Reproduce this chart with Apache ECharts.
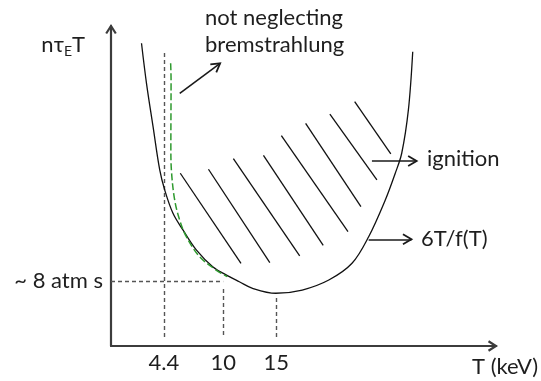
<!DOCTYPE html>
<html><head><meta charset="utf-8">
<script src="https://cdn.jsdelivr.net/npm/echarts@6/dist/echarts.min.js"></script>
<style>html,body{margin:0;padding:0;background:#fff}#c{width:541px;height:381px}</style>
</head><body><div id="c"></div>
<script>
// T (keV) tick labels and y reference value (atm s)
const xTicks = [4.4, 10, 15];
const yTicks = [8];
// 6T/f(T) ignition curve (schematic)
const curveT = [2.29, 2.76, 3.38, 4.01, 4.48, 5.26, 6.20, 7.46, 9.01, 10.58, 11.52, 12.77, 14.97, 17.46, 19.97, 22.16, 23.73, 25.30, 26.24, 26.85, 27.48, 27.89];
const curveV = [37.26, 32.33, 26.99, 21.66, 19.20, 16.33, 14.28, 11.82, 9.76, 8.53, 7.91, 7.10, 6.49, 6.89, 8.12, 10.18, 13.45, 17.97, 21.26, 23.72, 29.05, 36.22];
// curve with bremsstrahlung (green dashed)
const bremT = [5.04, 5.08, 5.06, 5.11, 5.42, 5.89, 6.52, 7.77, 9.33, 10.39];
const bremV = [34.79, 32.74, 24.53, 21.66, 17.97, 15.51, 13.45, 11.00, 9.35, 8.53];
// hatching of the ignition region: start T, start v, end T, end v
const hatchT1 = [5.95, 8.61, 10.96, 13.80, 15.49, 17.78, 20.07, 22.41];
const hatchV1 = [21.26, 21.75, 23.05, 23.47, 25.88, 27.41, 28.55, 30.07];
const hatchT2 = [11.68, 14.40, 17.22, 19.44, 21.78, 23.00, 24.51, 25.82];
const hatchV2 = [10.18, 10.25, 11.08, 12.39, 14.07, 17.14, 20.43, 23.63];
// guide lines (dashed)
const guideT1 = [4.4, 10, 15, -0.59];
const guideV1 = [36.06, 7.02, 5.91, 8];
const guideT2 = [4.4, 10, 15, 10];
const guideV2 = [0.74, 0.98, 0.74, 8];
// annotation arrows
const arrowT1 = [5.90, 24.04, 23.73];
const arrowV1 = [31.10, 22.77, 13.13];
const arrowT2 = [9.71, 28.26, 27.77];
const arrowV2 = [34.79, 22.77, 13.13];

const X_MIN = -0.59, X_MAX = 35.75, Y_MIN = 0, Y_MAX = 39.38;
const FONT = 'Lato';
const TXT = '#1e1e1e';
const AXIS = '#3c3c3c';

function segs(t1, v1, t2, v2) {
  return t1.map((t, i) => ({ coords: [[t, v1[i]], [t2[i], v2[i]]] }));
}

const chart = echarts.init(document.getElementById('c'), null, { renderer: 'canvas' });
chart.setOption({
  animation: false,
  backgroundColor: '#fff',
  textStyle: { fontFamily: FONT },
  grid: { left: 111, right: 43, top: 26, bottom: 35 },
  xAxis: {
    type: 'value', min: X_MIN, max: X_MAX,
    name: 'T (keV)', nameLocation: 'end', nameGap: 42,
    nameTextStyle: { fontFamily: FONT, fontSize: 22, color: TXT, align: 'right', verticalAlign: 'top', padding: [10, 0, 0, 0] },
    axisLine: { onZero: false, lineStyle: { color: AXIS, width: 2.2 } },
    axisTick: { show: false },
    splitLine: { show: false },
    axisLabel: { customValues: xTicks, formatter: v => String(v), fontFamily: FONT, fontSize: 22, color: TXT, margin: 6 }
  },
  yAxis: {
    type: 'value', min: Y_MIN, max: Y_MAX,
    name: '{n|nτ}{s|E}{n|T}', nameLocation: 'end', nameGap: -19,
    nameTextStyle: {
      align: 'right', verticalAlign: 'middle', padding: [0, 26, 0, 0],
      rich: {
        n: { fontFamily: FONT, fontSize: 22, color: TXT },
        s: { fontFamily: FONT, fontSize: 14, color: TXT, padding: [12, 0, 0, 0] }
      }
    },
    axisLine: { onZero: false, lineStyle: { color: AXIS, width: 2.2 } },
    axisTick: { show: false },
    splitLine: { show: false },
    axisLabel: { customValues: yTicks, formatter: v => '~ ' + v + ' atm s', fontFamily: FONT, fontSize: 22, color: TXT, margin: 8 }
  },
  series: [
    {
      type: 'lines', coordinateSystem: 'cartesian2d', silent: true,
      lineStyle: { color: '#555', width: 1.4, type: [4, 3], opacity: 1 },
      data: segs(guideT1, guideV1, guideT2, guideV2)
    },
    {
      type: 'line', silent: true, symbol: 'none', smooth: 0.35,
      lineStyle: { color: '#111', width: 1.3 },
      data: curveT.map((t, i) => [t, curveV[i]])
    },
    {
      type: 'line', silent: true, symbol: 'none', smooth: 0.35,
      lineStyle: { color: '#2e9a2e', width: 1.5, type: [7, 3] },
      data: bremT.map((t, i) => [t, bremV[i]])
    },
    {
      type: 'lines', coordinateSystem: 'cartesian2d', silent: true,
      lineStyle: { color: '#111', width: 1.3, opacity: 1 },
      data: segs(hatchT1, hatchV1, hatchT2, hatchV2)
    },
    {
      type: 'lines', coordinateSystem: 'cartesian2d', silent: true,
      lineStyle: { color: '#1a1a1a', width: 1.6, opacity: 1 },
      data: segs(arrowT1, arrowV1, arrowT2, arrowV2)
    }
  ]
});

// open arrowheads, placed through the chart's own scales
const toPx = p => chart.convertToPixel({ gridIndex: 0 }, p);
function head(fromPx, tipPx, back, half, color, width) {
  const dx = tipPx[0] - fromPx[0], dy = tipPx[1] - fromPx[1];
  const len = Math.hypot(dx, dy) || 1;
  const ux = dx / len, uy = dy / len, px = -uy, py = ux;
  const bx = tipPx[0] - ux * back, by = tipPx[1] - uy * back;
  return {
    type: 'polyline', silent: true, z: 100,
    shape: { points: [[bx + px * half, by + py * half], tipPx, [bx - px * half, by - py * half]] },
    style: { stroke: color, lineWidth: width, fill: null, lineJoin: 'miter', lineCap: 'butt' }
  };
}
const heads = [];
const xEnd = toPx([X_MAX, Y_MIN]);
heads.push(head([xEnd[0] - 10, xEnd[1]], xEnd, 7.5, 4.8, AXIS, 2.2));
const yEnd = toPx([X_MIN, Y_MAX]);
heads.push(head([yEnd[0], yEnd[1] + 10], yEnd, 7.5, 4.8, AXIS, 2.2));
arrowT1.forEach((t, i) => {
  heads.push(head(toPx([t, arrowV1[i]]), toPx([arrowT2[i], arrowV2[i]]), 8.5, 5, '#1a1a1a', 1.8));
});

chart.setOption({
  graphic: [
    { type: 'text', left: 205, top: 4, style: { text: 'not neglecting\nbremstrahlung', font: '22px ' + FONT, fill: TXT, lineHeight: 27 } },
    { type: 'text', left: 427, top: 148, style: { text: 'ignition', font: '22px ' + FONT, fill: TXT } },
    { type: 'text', left: 421, top: 228, style: { text: '6T/f(T)', font: '22px ' + FONT, fill: TXT } }
  ].concat(heads)
});
</script>
</body></html>
